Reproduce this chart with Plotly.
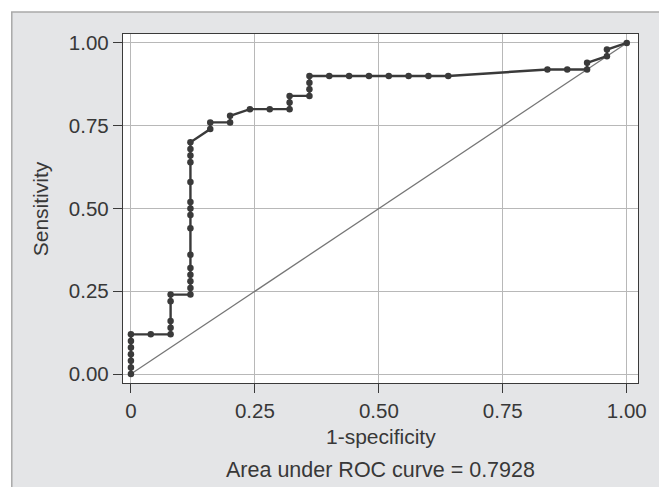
import plotly.graph_objects as go

# ROC curve points (1-specificity, sensitivity)
fpr = [0, 0, 0, 0, 0, 0, 0,
       0.04, 0.08, 0.08, 0.08, 0.08, 0.08,
       0.12, 0.12, 0.12, 0.12, 0.12, 0.12, 0.12, 0.12, 0.12, 0.12, 0.12, 0.12, 0.12, 0.12, 0.12,
       0.16, 0.16, 0.20, 0.20, 0.24, 0.28, 0.32, 0.32, 0.32, 0.36, 0.36, 0.36, 0.36,
       0.40, 0.44, 0.48, 0.52, 0.56, 0.60, 0.64,
       0.84, 0.88, 0.92, 0.92, 0.96, 0.96, 1.00]
tpr = [0, 0.02, 0.04, 0.06, 0.08, 0.10, 0.12,
       0.12, 0.12, 0.14, 0.16, 0.22, 0.24,
       0.24, 0.26, 0.28, 0.30, 0.32, 0.36, 0.44, 0.48, 0.50, 0.52, 0.58, 0.64, 0.66, 0.68, 0.70,
       0.74, 0.76, 0.76, 0.78, 0.80, 0.80, 0.80, 0.82, 0.84, 0.84, 0.86, 0.88, 0.90,
       0.90, 0.90, 0.90, 0.90, 0.90, 0.90, 0.90,
       0.92, 0.92, 0.92, 0.94, 0.96, 0.98, 1.00]
ref_x = [0, 1]
ref_y = [0, 1]
tick_vals = [0, 0.25, 0.5, 0.75, 1.0]
x_tick_text = ["0", "0.25", "0.50", "0.75", "1.00"]
y_tick_text = ["0.00", "0.25", "0.50", "0.75", "1.00"]
x_title = "1-specificity"
y_title = "Sensitivity"
note = "Area under ROC curve = 0.7928"

W, H = 659, 487
ML, MR, MT, MB = 123, 16, 34, 104
PW, PH = W - ML - MR, H - MT - MB

def px(xpix):
    return (xpix - ML) / PW

def py(ypix):
    return (H - MB - ypix) / PH

FONT = "Liberation Sans, Arial, Helvetica, sans-serif"
TXT = "#383838"

fig = go.Figure()
fig.add_trace(go.Scatter(x=ref_x, y=ref_y, mode="lines",
                         line=dict(color="#767676", width=1.3),
                         hoverinfo="skip", showlegend=False))
fig.add_trace(go.Scatter(x=fpr, y=tpr, mode="lines+markers",
                         line=dict(color="#3a3a3a", width=2.4),
                         marker=dict(color="#3a3a3a", size=6.5),
                         showlegend=False))

axis_common = dict(
    tickvals=tick_vals, ticks="outside", ticklen=9, tickwidth=1.2, tickcolor="#3a3a3a",
    showline=True, mirror=True, linecolor="#3a3a3a", linewidth=1.4,
    showgrid=True, gridcolor="#b8b8b8", gridwidth=1.3, zeroline=False,
    tickfont=dict(family=FONT, size=20.5, color=TXT),
)

fig.update_layout(
    width=W, height=H,
    margin=dict(l=ML, r=MR, t=MT, b=MB),
    paper_bgcolor="white", plot_bgcolor="white",
    xaxis=dict(range=[-0.016, 1.0227], ticktext=x_tick_text, **axis_common),
    yaxis=dict(range=[-0.027, 1.027], ticktext=y_tick_text, **axis_common),
    shapes=[
        dict(type="rect", xref="paper", yref="paper",
             x0=px(10.7), x1=px(670), y0=py(500), y1=py(12),
             fillcolor="#e4e5e7", line=dict(color="#a9a9a9", width=1.5), layer="below"),
        dict(type="rect", xref="paper", yref="paper",
             x0=0, x1=1, y0=0, y1=1,
             fillcolor="white", line=dict(width=0), layer="below"),
    ],
    annotations=[
        dict(text=y_title, xref="paper", yref="paper", x=px(40), y=0.5,
             textangle=-90, showarrow=False, xanchor="center", yanchor="middle",
             font=dict(family=FONT, size=21, color=TXT)),
        dict(text=x_title, xref="paper", yref="paper", x=0.5, y=py(436),
             showarrow=False, xanchor="center", yanchor="middle",
             font=dict(family=FONT, size=21, color=TXT)),
        dict(text=note, xref="paper", yref="paper", x=0.5, y=py(470),
             showarrow=False, xanchor="center", yanchor="middle",
             font=dict(family=FONT, size=21.5, color=TXT)),
    ],
)

fig.write_html("out.html",
               config={"displayModeBar": False},
               post_script="document.body.style.margin='0';document.body.style.overflow='hidden';")
